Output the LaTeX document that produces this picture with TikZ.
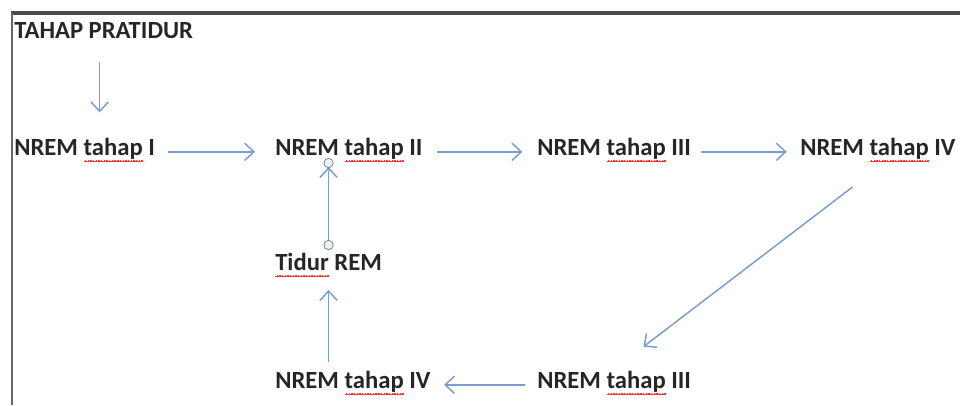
\documentclass[tikz,border=0pt]{standalone}
\usepackage{fontspec}
\setmainfont{Carlito}
\usetikzlibrary{arrows.meta}
\definecolor{garis}{RGB}{122,156,206}
\newcommand\salah[1]{\setbox0=\hbox{#1}\rlap{\xleaders\hbox{{\color{red!80}\rule[-5.6pt]{1pt}{0.8pt}\rule[-4.9pt]{1pt}{0.8pt}}}\hskip\wd0}\box0\relax}

\begin{document}
\begin{tikzpicture}[x=0.75pt,y=-0.75pt,
  label/.style={font=\fontsize{18.5}{20}\selectfont\bfseries,text=black!85,inner sep=0pt,anchor=base west},
  panah/.style={draw=garis,line width=1.1pt,-{Straight Barb[length=7pt,width=13pt]}},
  handle/.style={circle,draw=gray,fill=cyan!10,line width=0.6pt,inner sep=0pt,minimum size=7pt}]
\useasboundingbox (0,0) rectangle (960,405);

% page border
\draw[line width=2.5pt,gray!60!black] (11,13)--(960,13);
\draw[line width=1.5pt,gray!80!black] (12,13)--(12,405);

\node[label] (pratidur) at (14,38) {TAHAP PRATIDUR};
\node[label] (nrem1) at (14,155) {NREM \salah{tahap} I};
\node[label] (nrem2) at (275,155) {NREM \salah{tahap} II};
\node[label] (nrem3) at (537,155) {NREM \salah{tahap} III};
\node[label] (nrem4) at (800,155) {NREM \salah{tahap} IV};
\node[label] (rem) at (275,270) {\salah{Tidur} REM};
\node[label] (nrem4b) at (275,388) {NREM \salah{tahap} IV};
\node[label] (nrem3b) at (537,388) {NREM \salah{tahap} III};

\draw[panah] ([xshift=-3pt,yshift=-18pt]pratidur.base)--([xshift=-3pt,yshift=32pt]pratidur.base |- nrem1.base);
\draw[panah,shorten <=10pt,shorten >=15pt] (nrem1.mid east)--(nrem2.mid west);
\draw[panah,shorten <=11pt,shorten >=11pt] (nrem2.mid east)--(nrem3.mid west);
\draw[panah,shorten <=7.5pt,shorten >=10pt] (nrem3.mid east)--(nrem4.mid west);
\draw[panah] ([xshift=-19pt,yshift=-24pt]nrem4.base)--([xshift=22pt,yshift=31pt]nrem3b.base);
\draw[panah,shorten <=9pt,shorten >=10pt] (nrem3b.mid west)--(nrem4b.mid east);
\draw[panah] ([yshift=19.5pt]rem.base |- nrem4b.base)--([yshift=-15pt]rem.base);

\coordinate (hbawah) at ([yshift=18.75pt]rem.base);
\coordinate (hatas) at ([yshift=-6pt]rem.base |- nrem2.base);
\draw[panah,shorten >=3pt] (hbawah)--(hatas);
\node[handle] (titik1) at (hbawah) {};
\node[handle] (titik2) at (hatas) {};
\end{tikzpicture}
\end{document}
